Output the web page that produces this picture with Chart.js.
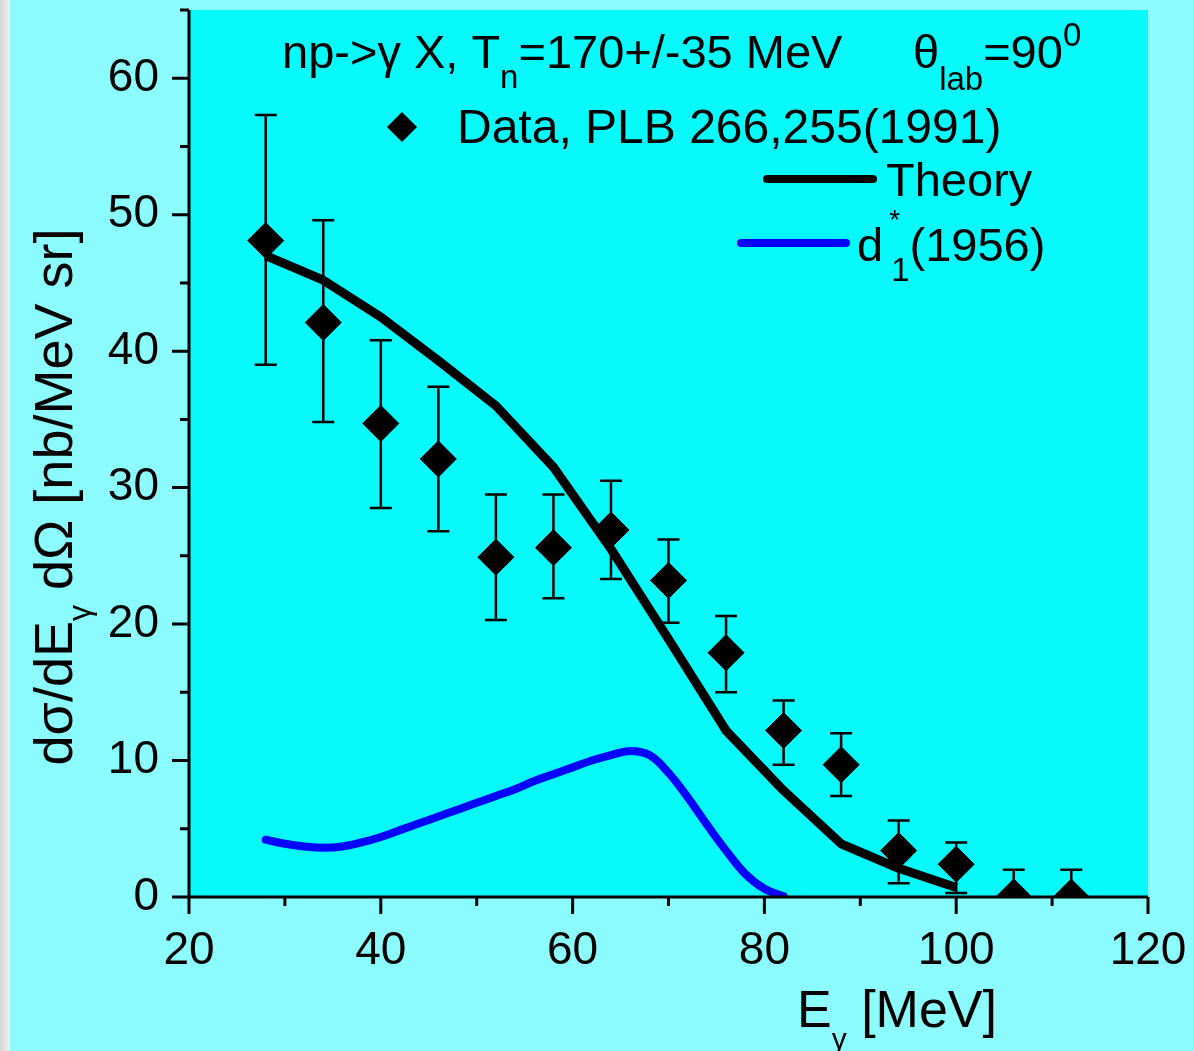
<!DOCTYPE html>
<html lang="en">
<head>
  <meta charset="UTF-8" />
  <title>np -> gamma X</title>
  <script src="https://cdn.jsdelivr.net/npm/chart.js"></script>
  <style>
    body {
      margin: 0;
      overflow: hidden;
      background-color: #8cfbfd;
    }
    .wrap {
      position: relative;
      width: 1194px;
      height: 1051px;
    }
  </style>
</head>
<body>
  <div class="wrap">
    <canvas id="chart"></canvas>
  </div>

  <script>
    // data
    const energies   = [28, 34, 40, 46, 52, 58, 64, 70, 76, 82, 88, 94, 100, 106, 112];
    const dataValues = [48.1, 42.1, 34.7, 32.1, 24.9, 25.6, 26.9, 23.2, 17.9, 12.2, 9.7, 3.4, 2.4, 0, 0];
    const errHigh    = [57.3, 49.6, 40.8, 37.4, 29.5, 29.5, 30.5, 26.2, 20.6, 14.4, 12.0, 5.6, 4.0, 2.0, 2.0];
    const errLow     = [39.0, 34.8, 28.5, 26.8, 20.3, 21.9, 23.3, 20.1, 15.0, 9.7, 7.4, 1.0, 0.3, 0, 0];

    const theoryE      = [28, 34, 40, 46, 52, 58, 64, 70, 76, 82, 88, 94, 100];
    const theoryValues = [47.0, 45.2, 42.5, 39.3, 36.0, 31.5, 25.5, 18.9, 12.2, 7.8, 3.9, 2.1, 0.7];

    const dstarE      = [28, 30, 32, 34, 36, 38, 40, 42, 44, 46, 48, 50, 52, 54, 56, 58, 60, 62, 64, 66, 68, 70, 72, 74, 76, 78, 80, 82];
    const dstarValues = [4.2, 3.9, 3.7, 3.6, 3.7, 4.0, 4.4, 4.9, 5.4, 5.9, 6.4, 6.9, 7.4, 7.9, 8.5, 9.0, 9.5, 10.0, 10.4, 10.7, 10.4, 9.1, 7.3, 5.3, 3.4, 1.7, 0.6, 0.05];

    const xTicks      = [20, 40, 60, 80, 100, 120];
    const xMinorTicks = [30, 50, 70, 90, 110];
    const yTicks      = [0, 10, 20, 30, 40, 50, 60];
    const yMinorTicks = [5, 15, 25, 35, 45, 55, 65];

    const FONT = '"Liberation Sans", Arial, sans-serif';

    function pts(xs, ys) {
      return xs.map((x, i) => ({ x: x, y: ys[i] }));
    }

    // draw a run of text pieces: [text, size, dy, noAdvance]
    function drawRun(ctx, x, y, pieces) {
      pieces.forEach(p => {
        ctx.font = p[1] + 'px ' + FONT;
        ctx.fillText(p[0], x, y + (p[2] || 0));
        if (!p[3]) x += ctx.measureText(p[0]).width;
      });
      return x;
    }

    const decorPlugin = {
      id: 'decor',
      beforeDraw(chart) {
        const ctx = chart.ctx;
        const a = chart.chartArea;
        ctx.save();
        ctx.fillStyle = '#8cfbfd';
        ctx.fillRect(0, 0, chart.width, chart.height);
        const g = ctx.createLinearGradient(0, 0, 12, 0);
        g.addColorStop(0, '#d6d6d6');
        g.addColorStop(1, '#f2f2f2');
        ctx.fillStyle = g;
        ctx.fillRect(0, 0, 10, chart.height);
        ctx.fillStyle = '#06f9fb';
        ctx.fillRect(a.left, a.top, a.right - a.left, a.bottom - a.top);
        ctx.restore();
      },
      afterDatasetsDraw(chart) {
        // error bars
        const ctx = chart.ctx;
        const a = chart.chartArea;
        const xs = chart.scales.x, ys = chart.scales.y;
        ctx.save();
        ctx.beginPath();
        ctx.rect(a.left - 20, a.top - 20, a.right - a.left + 40, a.bottom - a.top + 20);
        ctx.clip();
        ctx.strokeStyle = '#000';
        ctx.lineWidth = 2.5;
        energies.forEach((e, i) => {
          const px = xs.getPixelForValue(e);
          const top = ys.getPixelForValue(errHigh[i]);
          const bot = ys.getPixelForValue(errLow[i]);
          ctx.beginPath();
          ctx.moveTo(px, top); ctx.lineTo(px, bot);
          ctx.moveTo(px - 11, top); ctx.lineTo(px + 11, top);
          ctx.moveTo(px - 11, bot); ctx.lineTo(px + 11, bot);
          ctx.stroke();
        });
        ctx.restore();
      },
      afterDraw(chart) {
        const ctx = chart.ctx;
        const a = chart.chartArea;
        const xs = chart.scales.x, ys = chart.scales.y;
        ctx.save();

        // axes and tick marks
        ctx.strokeStyle = '#000';
        ctx.lineWidth = 3;
        ctx.beginPath();
        ctx.moveTo(a.left, a.top); ctx.lineTo(a.left, a.bottom);
        ctx.moveTo(a.left, a.bottom); ctx.lineTo(a.right, a.bottom);
        yTicks.forEach(v => { const p = ys.getPixelForValue(v); ctx.moveTo(a.left - 17, p); ctx.lineTo(a.left, p); });
        yMinorTicks.forEach(v => { const p = ys.getPixelForValue(v); ctx.moveTo(a.left - 9, p); ctx.lineTo(a.left, p); });
        xTicks.forEach(v => { const p = xs.getPixelForValue(v); ctx.moveTo(p, a.bottom); ctx.lineTo(p, a.bottom + 17); });
        xMinorTicks.forEach(v => { const p = xs.getPixelForValue(v); ctx.moveTo(p, a.bottom); ctx.lineTo(p, a.bottom + 9); });
        ctx.stroke();

        ctx.fillStyle = '#000';
        ctx.textBaseline = 'alphabetic';
        ctx.textAlign = 'left';

        // header line
        drawRun(ctx, 282, 68, [['np->\u03b3 X, T', 47], ['n', 33, 20], ['=170+/-35 MeV', 47]]);
        drawRun(ctx, 913, 68, [['\u03b8', 47], ['lab', 33, 22], ['=90', 47], ['0', 33, -22]]);

        // legend
        ctx.beginPath();
        ctx.moveTo(402, 112); ctx.lineTo(417, 127); ctx.lineTo(402, 142); ctx.lineTo(387, 127);
        ctx.closePath();
        ctx.fill();
        drawRun(ctx, 457, 143, [['Data, PLB 266,255(1991)', 48]]);

        ctx.lineCap = 'round';
        ctx.lineWidth = 8;
        ctx.strokeStyle = '#000';
        ctx.beginPath(); ctx.moveTo(767, 179); ctx.lineTo(873, 179); ctx.stroke();
        drawRun(ctx, 886, 196, [['Theory', 47]]);

        ctx.strokeStyle = '#0000ff';
        ctx.beginPath(); ctx.moveTo(741, 243); ctx.lineTo(846, 243); ctx.stroke();
        let x = drawRun(ctx, 857, 261, [['d', 47]]);
        drawRun(ctx, x + 6, 261, [['*', 28, -32, true]]);
        x = drawRun(ctx, x + 8, 261, [['1', 33, 20]]);
        drawRun(ctx, x, 261, [['(1956)', 47]]);

        // x title
        drawRun(ctx, 797, 1027, [['E', 52], ['\u03b3', 30, 22], [' [MeV]', 52]]);

        // y title
        ctx.translate(72, 497);
        ctx.rotate(-Math.PI / 2);
        ctx.font = '54px ' + FONT;
        const w1 = ctx.measureText('d\u03c3/dE').width;
        const w3 = ctx.measureText(' d\u03a9 [nb/MeV sr]').width;
        ctx.font = '32px ' + FONT;
        const w2 = ctx.measureText('\u03b3').width;
        drawRun(ctx, -(w1 + w2 + w3) / 2, 0, [['d\u03c3/dE', 54], ['\u03b3', 32, 18], [' d\u03a9 [nb/MeV sr]', 54]]);

        ctx.restore();
      }
    };

    new Chart(document.getElementById('chart'), {
      type: 'scatter',
      data: {
        datasets: [
          {
            label: 'd*1(1956)',
            data: pts(dstarE, dstarValues),
            showLine: true,
            borderColor: '#0000ff',
            borderWidth: 8,
            pointRadius: 0,
            tension: 0.4,
            borderCapStyle: 'round',
            borderJoinStyle: 'round'
          },
          {
            label: 'Theory',
            data: pts(theoryE, theoryValues),
            showLine: true,
            borderColor: '#000',
            borderWidth: 9,
            pointRadius: 0,
            tension: 0,
            borderJoinStyle: 'round'
          },
          {
            label: 'Data, PLB 266,255(1991)',
            data: pts(energies, dataValues),
            showLine: false,
            pointStyle: 'rectRot',
            pointRadius: 18,
            backgroundColor: '#000',
            borderColor: '#000',
            borderWidth: 1,
            clip: { left: 30, top: 30, right: 30, bottom: 0 }
          }
        ]
      },
      options: {
        responsive: true,
        maintainAspectRatio: false,
        animation: false,
        events: [],
        layout: { autoPadding: false, padding: { left: 0, top: 10, right: 46, bottom: 0 } },
        plugins: {
          legend: { display: false },
          tooltip: { enabled: false }
        },
        scales: {
          x: {
            type: 'linear',
            min: 20,
            max: 120,
            afterBuildTicks: s => { s.ticks = xTicks.map(v => ({ value: v })); },
            afterFit: s => { s.height = 154; s.paddingLeft = 0; s.paddingRight = 0; },
            grid: { display: false, drawTicks: false },
            border: { display: false },
            ticks: { color: '#000', padding: 27, maxRotation: 0, font: { size: 46, family: FONT } }
          },
          y: {
            type: 'linear',
            min: 0,
            max: 65,
            afterBuildTicks: s => { s.ticks = yTicks.map(v => ({ value: v })); },
            afterFit: s => { s.width = 189; s.paddingTop = 0; s.paddingBottom = 0; },
            grid: { display: false, drawTicks: false },
            border: { display: false },
            ticks: { color: '#000', padding: 30, font: { size: 46, family: FONT } }
          }
        }
      },
      plugins: [decorPlugin]
    });
  </script>
</body>
</html>
